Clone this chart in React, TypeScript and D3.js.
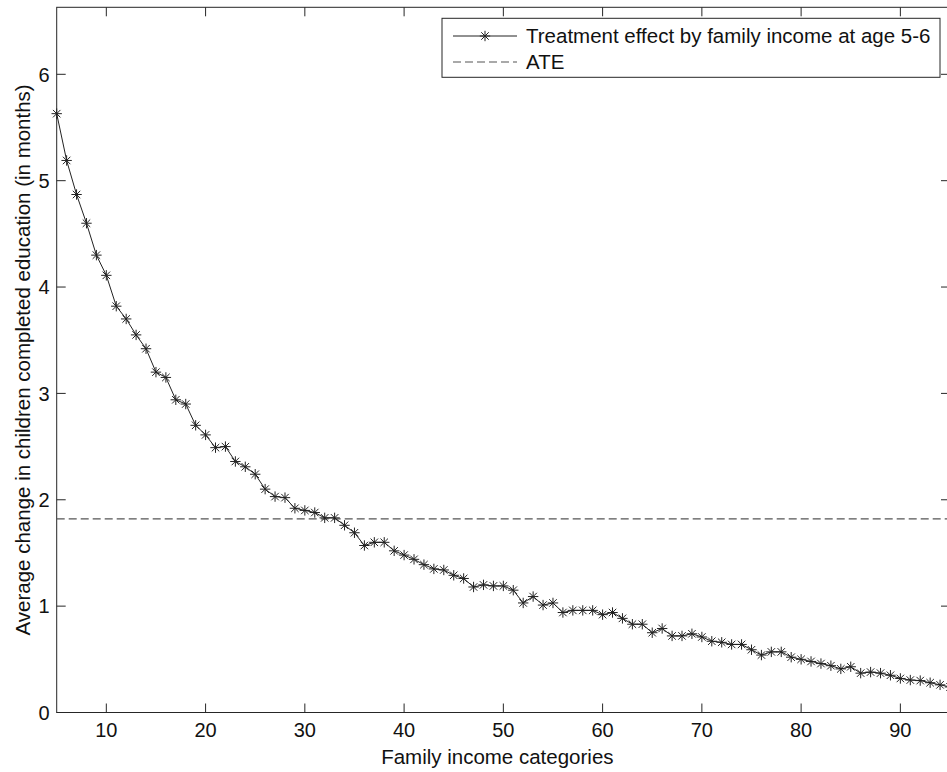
import React from "react";
import * as d3 from "d3";

const incomeCategories = [
  5, 6, 7, 8, 9, 10, 11, 12, 13, 14, 15, 16, 17, 18, 19, 20, 21, 22, 23, 24,
  25, 26, 27, 28, 29, 30, 31, 32, 33, 34, 35, 36, 37, 38, 39, 40, 41, 42, 43, 44,
  45, 46, 47, 48, 49, 50, 51, 52, 53, 54, 55, 56, 57, 58, 59, 60, 61, 62, 63, 64,
  65, 66, 67, 68, 69, 70, 71, 72, 73, 74, 75, 76, 77, 78, 79, 80, 81, 82, 83, 84,
  85, 86, 87, 88, 89, 90, 91, 92, 93, 94, 95,
];

const treatmentEffect = [
  5.63, 5.19, 4.87, 4.6, 4.3, 4.11, 3.82, 3.7, 3.55, 3.42, 3.2, 3.15, 2.94, 2.9, 2.7, 2.61, 2.49, 2.5, 2.36, 2.31,
  2.24, 2.1, 2.03, 2.02, 1.92, 1.9, 1.88, 1.83, 1.83, 1.76, 1.69, 1.57, 1.6, 1.6, 1.52, 1.48, 1.44, 1.39, 1.35, 1.34,
  1.29, 1.26, 1.18, 1.2, 1.19, 1.19, 1.15, 1.03, 1.09, 1.01, 1.03, 0.94, 0.96, 0.96, 0.96, 0.92, 0.94, 0.885, 0.83, 0.83,
  0.75, 0.79, 0.72, 0.72, 0.74, 0.71, 0.67, 0.66, 0.64, 0.64, 0.59, 0.54, 0.57, 0.57, 0.52, 0.5, 0.48, 0.46, 0.44, 0.41,
  0.43, 0.37, 0.38, 0.37, 0.35, 0.32, 0.305, 0.3, 0.28, 0.26, 0.24,
];

const ATE = 1.82;

const xTicks = [10, 20, 30, 40, 50, 60, 70, 80, 90];
const yTicks = [0, 1, 2, 3, 4, 5, 6];
const xDomain = [5, 95];
const yDomain = [0, 6.63];

const legendLabels = ["Treatment effect by family income at age 5-6", "ATE"];
const xLabel = "Family income categories";
const yLabel = "Average change in children completed education (in months)";

const W = 947;
const H = 772;
const left = 56.7;
const right = 950;
const top = 7.3;
const bottom = 712.5;
const FONT = "'Liberation Sans', Arial, Helvetica, sans-serif";
const AXIS = "#262626";
const TICK = 9;

function starPath(r: number) {
  const d = r * 0.72;
  return `M${-r},0H${r}M0,${-r}V${r}M${-d},${-d}L${d},${d}M${-d},${d}L${d},${-d}`;
}

export default function App() {
  const x = d3.scaleLinear().domain(xDomain).range([left, right]);
  const y = d3.scaleLinear().domain(yDomain).range([bottom, top]);
  const pts = incomeCategories.map((c, i) => [c, treatmentEffect[i]] as [number, number]);
  const line = d3
    .line<[number, number]>()
    .x((d) => x(d[0]))
    .y((d) => y(d[1]));
  const star = starPath(5.2);

  const legX = 442;
  const legY = 18.3;
  const legW = 498;
  const legH = 59;
  const row1 = 36;
  const row2 = 62;

  return (
    <svg
      width={W}
      height={H}
      style={{ position: "absolute", left: 0, top: 0, background: "#fff" }}
      fontFamily={FONT}
    >
      <rect x={0} y={0} width={W} height={H} fill="#fff" />
      {/* axes box */}
      <rect x={left} y={top} width={right - left} height={bottom - top} fill="none" stroke={AXIS} strokeWidth={1} />
      {/* x ticks */}
      {xTicks.map((t) => (
        <g key={"xt" + t}>
          <line x1={x(t)} x2={x(t)} y1={bottom} y2={bottom - TICK} stroke={AXIS} />
          <line x1={x(t)} x2={x(t)} y1={top} y2={top + TICK} stroke={AXIS} />
          <text x={x(t)} y={737} textAnchor="middle" fontSize={20} fill="#111">
            {t}
          </text>
        </g>
      ))}
      {/* y ticks */}
      {yTicks.map((t) => (
        <g key={"yt" + t}>
          <line x1={left} x2={left + TICK} y1={y(t)} y2={y(t)} stroke={AXIS} />
          <line x1={right} x2={right - TICK} y1={y(t)} y2={y(t)} stroke={AXIS} />
          <text x={left - 7} y={y(t) + 7.3} textAnchor="end" fontSize={20} fill="#111">
            {t}
          </text>
        </g>
      ))}
      {/* ATE dashed line */}
      <line
        x1={left}
        x2={right}
        y1={y(ATE)}
        y2={y(ATE)}
        stroke="#555"
        strokeWidth={1.2}
        strokeDasharray="8,4"
      />
      {/* treatment effect line */}
      <path d={line(pts) || ""} fill="none" stroke="#222" strokeWidth={1} />
      {pts.map((p, i) => (
        <path
          key={"m" + i}
          d={star}
          transform={`translate(${x(p[0])},${y(p[1])})`}
          fill="none"
          stroke="#222"
          strokeWidth={1}
        />
      ))}
      {/* axis labels */}
      <text x={(left + right) / 2 - 6} y={764} textAnchor="middle" fontSize={20.5} fill="#111">
        {xLabel}
      </text>
      <text
        transform={`translate(30,${(top + bottom) / 2}) rotate(-90)`}
        textAnchor="middle"
        fontSize={20.5}
        fill="#111"
      >
        {yLabel}
      </text>
      {/* legend */}
      <rect x={legX} y={legY} width={legW} height={legH} fill="#fff" stroke={AXIS} strokeWidth={1} />
      <line x1={453} x2={517} y1={row1} y2={row1} stroke="#222" />
      <path d={star} transform={`translate(485,${row1})`} fill="none" stroke="#222" />
      <text x={526} y={row1 + 7} fontSize={20.5} fill="#111">
        {legendLabels[0]}
      </text>
      <line x1={453} x2={517} y1={row2} y2={row2} stroke="#555" strokeDasharray="8,4" strokeWidth={1.2} />
      <text x={526} y={row2 + 7} fontSize={20.5} fill="#111">
        {legendLabels[1]}
      </text>
    </svg>
  );
}
